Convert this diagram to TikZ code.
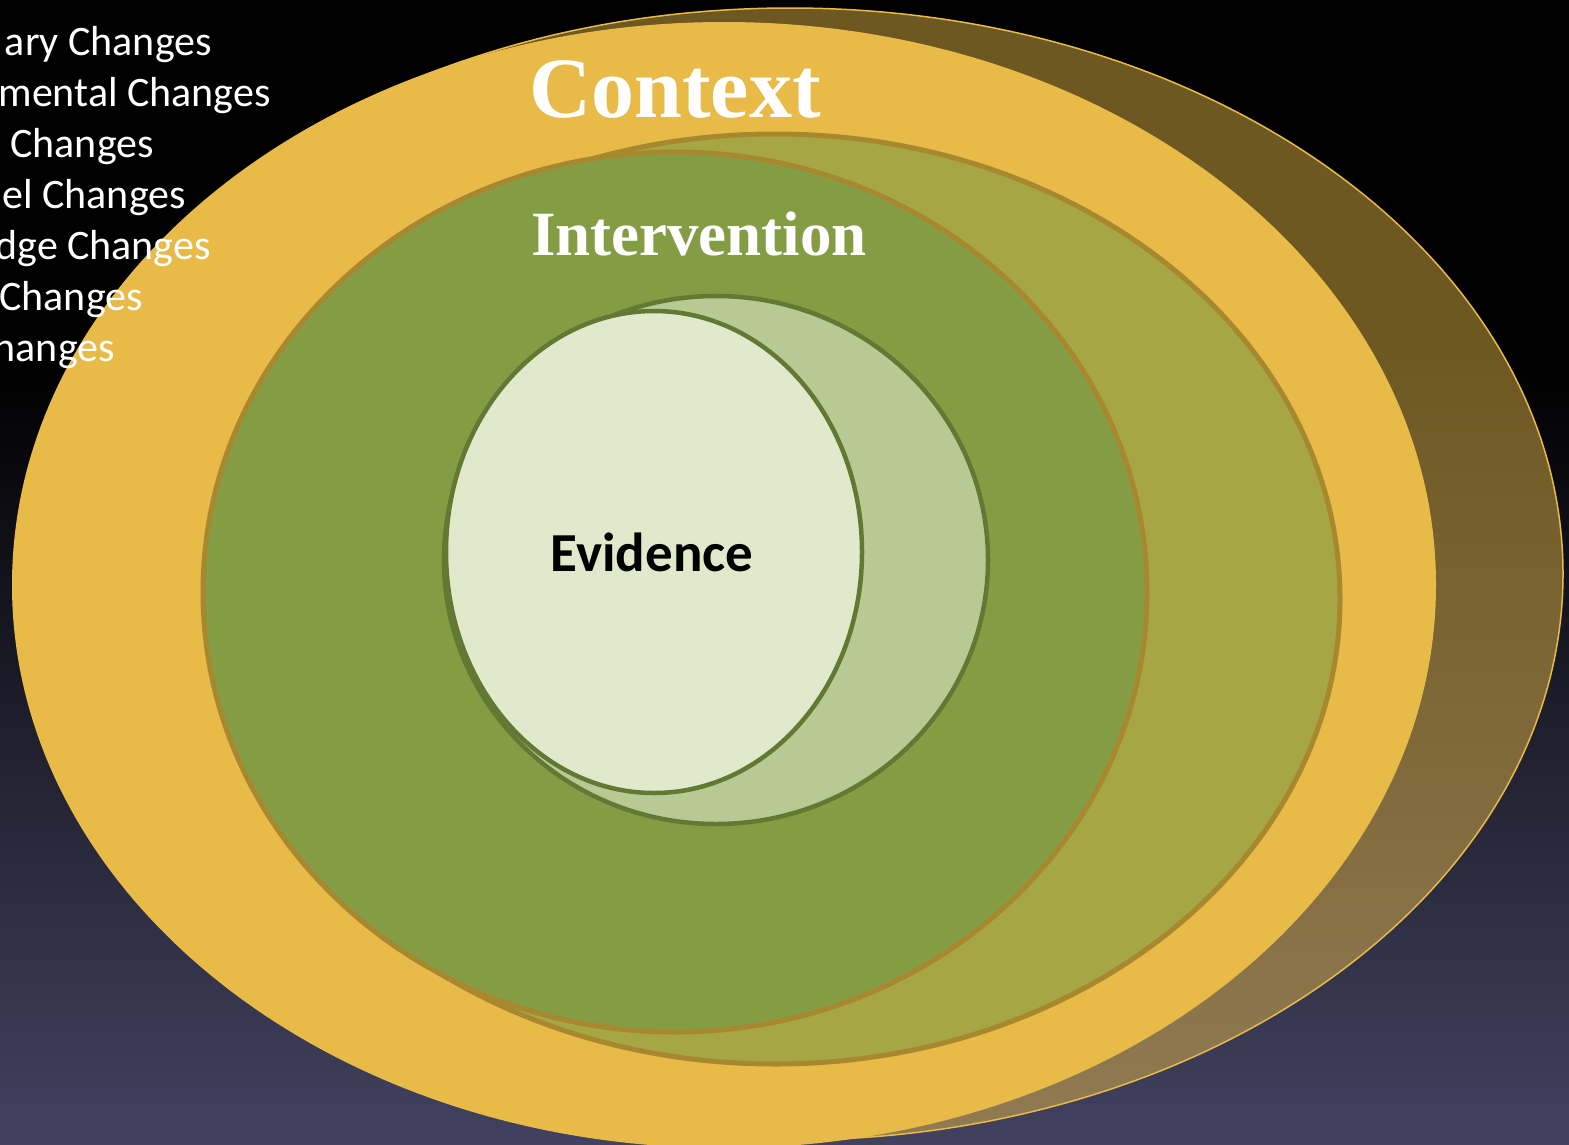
\documentclass[tikz,border=0pt]{standalone}
\usepackage{fontspec}
\setmainfont{Liberation Serif}
\newfontfamily\sidefont{Carlito}
\definecolor{dusk}{RGB}{66,66,96}
\definecolor{gold}{HTML}{E8BA48}
\definecolor{olive}{HTML}{A6A644}
\definecolor{leaf}{HTML}{849C44}
\definecolor{sage}{HTML}{B9C993}
\definecolor{cream}{HTML}{E1E9CC}
\definecolor{rimbrown}{HTML}{A8882F}
\definecolor{rimgreen}{HTML}{637832}
\begin{document}
\begin{tikzpicture}[x=1pt,y=-1pt,line cap=round,
		brownrim/.style={draw=rimbrown,line width=5pt},
		greenrim/.style={draw=rimgreen,line width=4.5pt},
		sidetext/.style={text=white,inner sep=0pt,anchor=base east,font=\sidefont\fontsize{42}{42}\selectfont}]
		\clip (0,0) rectangle (1569,1144);
		\fill[black] (0,0) rectangle (1569,1144);
		\shade[top color=black,bottom color=dusk] (0,360) rectangle (1569,1144);
		% rings, back to front
		\filldraw[fill=gold,fill opacity=0.48,draw=gold,line width=1.5pt] (790,574) ellipse [x radius=773,y radius=566];
		\fill[gold] (724,585) ellipse [x radius=712,y radius=563];
		\filldraw[olive,brownrim] (775,599) ellipse [x radius=565,y radius=465];
		\filldraw[leaf,brownrim] (675,592) ellipse [x radius=472,y radius=440];
		\filldraw[sage,greenrim] (716,560) ellipse [x radius=272,y radius=264];
		\filldraw[cream,greenrim] (654,552) ellipse [x radius=208,y radius=241];
		\node[text=white,inner sep=0pt,anchor=base,font=\bfseries\fontsize{86}{86}\selectfont] (context) at (675,117) {Context};
		\node[text=white,inner sep=0pt,anchor=base,font=\bfseries\fontsize{63}{63}\selectfont] (interv) at (699,255) {Intervention};
		\node[text=black,inner sep=0pt,anchor=base,font=\sidefont\bfseries\fontsize{55}{55}\selectfont] (evid) at (652,571) {Evidence};
		\foreach \txt/\xr/\yb [count=\i] in {ary Changes/212/55,mental Changes/271/106,Changes/154/157,el Changes/186/208,dge Changes/211/259,Changes/143/310,hanges/115/361}
			\node[sidetext] (side\i) at (\xr,\yb) {\txt};
\end{tikzpicture}
\end{document}
